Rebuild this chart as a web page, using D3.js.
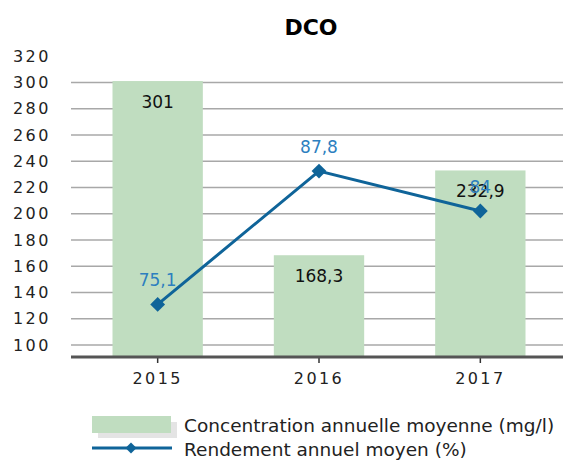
<!DOCTYPE html>
<html>
<head>
<meta charset="utf-8">
<script src="https://cdn.jsdelivr.net/npm/d3@7"></script>
<style>
  body { margin: 0; background: #fff; }
  text { font-family: "DejaVu Sans", Verdana, sans-serif; }
</style>
</head>
<body>
<svg id="chart"></svg>
<script>
"use strict";

// données
var years = ["2015", "2016", "2017"];
var concentration = [301, 168.3, 232.9]; // mg/l
var rendement = [75.1, 87.8, 84]; // %
var yTicks = [100, 120, 140, 160, 180, 200, 220, 240, 260, 280, 300, 320];
var title = "DCO";
var legendLabels = ["Concentration annuelle moyenne (mg/l)", "Rendement annuel moyen (%)"];

var fmt = function (v) { return String(v).replace(".", ","); };

function chart(idname, {
  width = 563,
  height = 462,
  plotLeft = 71,
  plotRight = 563,
  plotTop = 43,
  plotBottom = 358,
} = {}) {
  var svg = d3.select(`#${idname}`)
    .attr("width", width)
    .attr("height", height);

  // échelles
  var xScale = d3.scaleBand()
    .domain(years)
    .range([77, 561])
    .paddingInner(0.44)
    .paddingOuter(0.22);
  var yScale = d3.scaleLinear()
    .domain([90, 330])
    .range([plotBottom, plotTop]);
  var y2Scale = d3.scaleLinear() // axe secondaire (non affiché)
    .domain([70, 100])
    .range([plotBottom, plotTop]);

  // titre
  svg.append("text")
    .attr("x", 311)
    .attr("y", 35)
    .attr("text-anchor", "middle")
    .style("font-size", "22px")
    .style("font-weight", "bold")
    .text(title);

  // grille
  svg.append("g")
    .selectAll("line")
    .data(yTicks.filter((d) => d < yTicks[yTicks.length - 1]))
    .enter()
    .append("line")
    .attr("x1", plotLeft)
    .attr("x2", plotRight)
    .attr("y1", (d) => yScale(d))
    .attr("y2", (d) => yScale(d))
    .attr("stroke", "#a8a8a8")
    .attr("stroke-width", 1.5);

  // étiquettes axe y
  svg.append("g")
    .selectAll("text")
    .data(yTicks)
    .enter()
    .append("text")
    .attr("x", 13)
    .attr("y", (d) => yScale(d))
    .attr("dy", "0.36em")
    .style("font-size", "16px")
    .style("letter-spacing", "2.4px")
    .attr("fill", "#222")
    .text((d) => d);

  // barres
  svg.append("g")
    .selectAll("rect")
    .data(concentration)
    .enter()
    .append("rect")
    .attr("x", (d, i) => xScale(years[i]))
    .attr("y", (d) => yScale(d))
    .attr("width", xScale.bandwidth())
    .attr("height", (d) => plotBottom - yScale(d))
    .attr("fill", "#c0ddc0");

  // axe x
  var xAxis = d3.axisBottom(xScale).tickSize(5).tickSizeOuter(0).tickPadding(10);
  var gx = svg.append("g")
    .attr("transform", `translate(0,${plotBottom})`)
    .call(xAxis);
  gx.select(".domain").remove();
  gx.selectAll(".tick line").attr("stroke", "#333").attr("stroke-width", 1.5);
  gx.selectAll(".tick text")
    .style("font-size", "16px")
    .style("letter-spacing", "2.4px")
    .style("font-family", "DejaVu Sans, Verdana, sans-serif")
    .attr("fill", "#222");
  svg.append("line")
    .attr("x1", plotLeft)
    .attr("x2", plotRight)
    .attr("y1", plotBottom - 1)
    .attr("y2", plotBottom - 1)
    .attr("stroke", "#555")
    .attr("stroke-width", 3);

  // valeurs des barres
  svg.append("g")
    .selectAll("text")
    .data(concentration)
    .enter()
    .append("text")
    .attr("x", (d, i) => xScale(years[i]) + xScale.bandwidth() / 2)
    .attr("y", (d) => yScale(d) + 27)
    .attr("text-anchor", "middle")
    .style("font-size", "17px")
    .attr("fill", "#111")
    .text((d) => fmt(d));

  // courbe rendement
  var line = d3.line()
    .x((d, i) => xScale(years[i]) + xScale.bandwidth() / 2)
    .y((d) => y2Scale(d));
  svg.append("path")
    .datum(rendement)
    .attr("d", line)
    .attr("fill", "none")
    .attr("stroke", "#0f6499")
    .attr("stroke-width", 3);
  svg.append("g")
    .selectAll("path")
    .data(rendement)
    .enter()
    .append("path")
    .attr("d", d3.symbol(d3.symbolSquare, 110))
    .attr("transform", (d, i) =>
      `translate(${xScale(years[i]) + xScale.bandwidth() / 2},${y2Scale(d)}) rotate(45)`)
    .attr("fill", "#0f6499");
  svg.append("g")
    .selectAll("text")
    .data(rendement)
    .enter()
    .append("text")
    .attr("x", (d, i) => xScale(years[i]) + xScale.bandwidth() / 2)
    .attr("y", (d) => y2Scale(d) - 18)
    .attr("text-anchor", "middle")
    .style("font-size", "17px")
    .attr("fill", "#2d7fbf")
    .text((d) => fmt(d));

  // légende
  var lg = svg.append("g");
  lg.append("rect")
    .attr("x", 98).attr("y", 422)
    .attr("width", 79).attr("height", 16)
    .attr("fill", "#e4e4e4");
  lg.append("rect")
    .attr("x", 92).attr("y", 416)
    .attr("width", 79).attr("height", 17)
    .attr("fill", "#c0ddc0");
  lg.append("line")
    .attr("x1", 92).attr("x2", 172)
    .attr("y1", 448).attr("y2", 448)
    .attr("stroke", "#0f6499")
    .attr("stroke-width", 3);
  lg.append("path")
    .attr("d", d3.symbol(d3.symbolSquare, 60))
    .attr("transform", "translate(131,448) rotate(45)")
    .attr("fill", "#0f6499");
  lg.selectAll("text.lab")
    .data(legendLabels)
    .enter()
    .append("text")
    .attr("class", "lab")
    .attr("x", 184)
    .attr("y", (d, i) => 425 + i * 24)
    .attr("dy", "0.36em")
    .style("font-size", "18.5px")
    .attr("fill", "#222")
    .text((d) => d);

  return svg.node();
}

chart("chart");
</script>
</body>
</html>
